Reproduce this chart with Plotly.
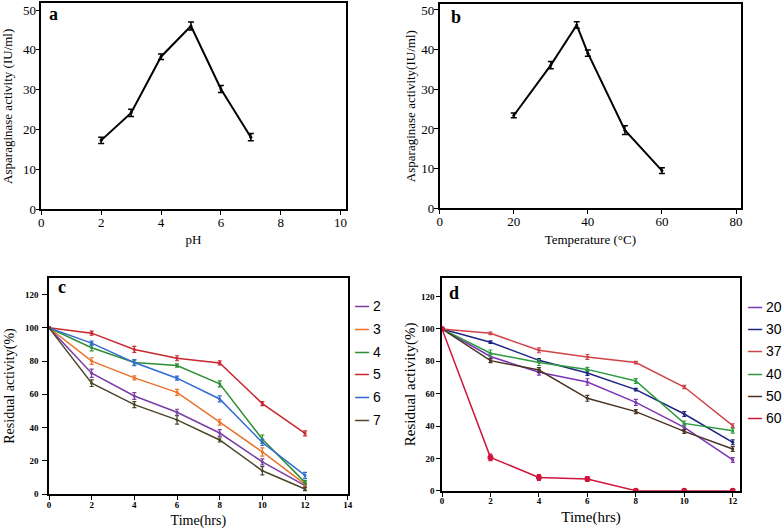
import plotly.graph_objects as go

# ---------------- data ----------------
ph_values = [2, 3, 4, 5, 6, 7]
ph_activity = [17.3, 24.2, 38.3, 46.0, 30.2, 18.1]
ph_err = [0.8, 0.9, 0.7, 1.0, 0.9, 0.9]

temp_values = [20, 30, 37, 40, 50, 60]
temp_activity = [23.4, 36.1, 46.2, 39.1, 19.7, 9.5]
temp_err = [0.6, 0.9, 0.8, 0.8, 1.1, 0.7]

time_hrs = [0, 2, 4, 6, 8, 10, 12]

ph_names = ["2", "3", "4", "5", "6", "7"]
ph_stab = [
    [100, 72.7, 59.0, 49.2, 36.7, 19.3, 5.0],
    [100, 80.0, 69.9, 61.2, 43.2, 25.3, 6.0],
    [100, 88.0, 79.1, 77.3, 66.3, 33.0, 7.0],
    [100, 96.8, 87.0, 81.7, 78.9, 54.4, 36.5],
    [100, 90.8, 79.1, 69.7, 57.2, 31.0, 11.2],
    [100, 66.7, 53.8, 44.6, 32.5, 14.0, 3.0],
]
ph_stab_err = [
    [0.5, 2.5, 2.0, 1.8, 2.0, 1.8, 1.0],
    [0.5, 2.0, 1.2, 1.8, 1.8, 2.5, 1.0],
    [0.5, 1.8, 1.5, 1.0, 1.8, 2.5, 1.2],
    [0.5, 1.2, 1.8, 1.5, 1.2, 1.2, 1.5],
    [0.5, 1.2, 1.8, 1.2, 1.8, 1.8, 1.8],
    [0.5, 2.0, 1.8, 2.5, 1.2, 2.5, 1.0],
]
ph_colors = ["#7a3ea6", "#e8742c", "#2f8f34", "#c8282e", "#2f6bd0", "#4d472a"]

temp_names = ["20", "30", "37", "40", "50", "60"]
temp_stab = [
    [100, 83.0, 73.2, 67.2, 54.6, 39.2, 19.0],
    [100, 91.8, 80.6, 72.8, 62.5, 47.4, 29.9],
    [100, 97.3, 86.8, 82.7, 79.2, 64.1, 40.2],
    [100, 85.0, 79.2, 75.0, 67.8, 41.6, 37.1],
    [100, 80.4, 74.6, 57.1, 48.9, 36.7, 25.8],
    [100, 20.6, 8.2, 7.2, 0.0, 0.0, 0.0],
]
temp_stab_err = [
    [0.5, 1.5, 1.8, 2.0, 1.8, 1.5, 1.5],
    [0.5, 0.8, 1.0, 1.5, 0.8, 1.5, 1.5],
    [0.5, 0.8, 1.5, 1.5, 0.8, 1.0, 1.2],
    [0.5, 2.0, 1.8, 1.2, 1.5, 1.5, 1.5],
    [0.5, 1.2, 1.5, 1.8, 1.2, 1.2, 1.5],
    [0.5, 2.0, 1.8, 1.5, 0.5, 0.5, 0.5],
]
temp_colors = ["#7e34b8", "#1e2580", "#d04448", "#2e9a40", "#4a3424", "#d0143c"]

# ---------------- figure ----------------
W, H = 784, 529
SERIF = "Liberation Serif, Times New Roman, serif"
SANS = "Liberation Sans, Arial, sans-serif"

fig = go.Figure()

# panel a
fig.add_trace(go.Scatter(
    x=ph_values, y=ph_activity, mode="lines+markers",
    line=dict(color="black", width=2), marker=dict(color="black", size=3),
    error_y=dict(type="data", array=ph_err, color="black", thickness=1.5, width=3),
    xaxis="x", yaxis="y", showlegend=False))

# panel b
fig.add_trace(go.Scatter(
    x=temp_values, y=temp_activity, mode="lines+markers",
    line=dict(color="black", width=2), marker=dict(color="black", size=3),
    error_y=dict(type="data", array=temp_err, color="black", thickness=1.5, width=3),
    xaxis="x2", yaxis="y2", showlegend=False))

# panel c
for name, vals, err, col in zip(ph_names, ph_stab, ph_stab_err, ph_colors):
    fig.add_trace(go.Scatter(
        x=time_hrs, y=vals, name=name, mode="lines+markers",
        line=dict(color=col, width=1.5), marker=dict(color=col, size=3),
        error_y=dict(type="data", array=err, color=col, thickness=1.2, width=2),
        xaxis="x3", yaxis="y3", showlegend=False))

# panel d
for name, vals, err, col in zip(temp_names, temp_stab, temp_stab_err, temp_colors):
    big = name == "60"
    fig.add_trace(go.Scatter(
        x=time_hrs, y=vals, name=name, mode="lines+markers",
        line=dict(color=col, width=1.5), marker=dict(color=col, size=6 if big else 3),
        error_y=dict(type="data", array=err, color=col, thickness=1.2, width=2),
        xaxis="x4", yaxis="y4", showlegend=False))


def px_x(v):
    return v / W


def px_y(v):
    return 1 - v / H


axis_common = dict(showline=True, linecolor="black", linewidth=1.6, mirror=True,
                   ticks="outside", ticklen=4, tickwidth=1.4, tickcolor="black",
                   showgrid=False, zeroline=False, automargin=False)
small_tick = dict(size=9, family=SERIF, weight="bold")

fig.update_layout(
    width=W, height=H, margin=dict(l=0, r=0, t=0, b=0),
    paper_bgcolor="white", plot_bgcolor="white",
    font=dict(family=SERIF, color="black"),
    xaxis=dict(axis_common, domain=[px_x(41.3), px_x(345.7)], range=[0, 10.17],
               tickvals=[0, 2, 4, 6, 8, 10], tickfont=dict(size=13), ticklabelstandoff=-4,
               title=dict(text="pH", font=dict(size=13), standoff=6), anchor="y"),
    yaxis=dict(axis_common, domain=[px_y(209.3), px_y(3.3)], range=[0, 51.7],
               tickvals=[0, 10, 20, 30, 40, 50], tickfont=dict(size=13), ticklabelstandoff=-3,
               title=dict(text="Asparaginase activity (IU/ml)", font=dict(size=13), standoff=9),
               anchor="x"),
    xaxis2=dict(axis_common, domain=[px_x(439.7), px_x(741)], range=[0, 81.35],
                tickvals=[0, 20, 40, 60, 80], tickfont=dict(size=13), ticklabelstandoff=-4,
                title=dict(text="Temperature (°C)", font=dict(size=13), standoff=7), anchor="y2"),
    yaxis2=dict(axis_common, domain=[px_y(208.3), px_y(4)], range=[0, 51.5],
                tickvals=[0, 10, 20, 30, 40, 50], tickfont=dict(size=13), ticklabelstandoff=-3,
                title=dict(text="Asparaginase activity(IU/ml)", font=dict(size=13), standoff=3),
                anchor="x2"),
    xaxis3=dict(axis_common, domain=[px_x(49), px_x(347.7)], range=[0, 14],
                tickvals=[0, 2, 4, 6, 8, 10, 12, 14], tickfont=small_tick, ticklabelstandoff=-3,
                title=dict(text="Time(hrs)", font=dict(size=14), standoff=13), anchor="y3"),
    yaxis3=dict(axis_common, domain=[px_y(494), px_y(278)], range=[0, 130], ticklen=5,
                tickvals=[0, 20, 40, 60, 80, 100, 120], tickfont=small_tick, ticklabelstandoff=2,
                title=dict(text="Residual activity(%)", font=dict(size=14), standoff=7),
                anchor="x3"),
    xaxis4=dict(axis_common, domain=[px_x(442), px_x(740)], range=[0, 12.3],
                tickvals=[0, 2, 4, 6, 8, 10, 12], tickfont=small_tick, ticklabelstandoff=-3,
                title=dict(text="Time(hrs)", font=dict(size=15), standoff=6), anchor="y4"),
    yaxis4=dict(axis_common, domain=[px_y(490.7), px_y(278)], range=[0, 131.5],
                tickvals=[0, 20, 40, 60, 80, 100, 120], tickfont=small_tick,
                title=dict(text="Residual activity(%)", font=dict(size=15), standoff=2),
                anchor="x4"),
)

annotations = []
# panel letters
for letter, xp, yp in [("a", 47, 14), ("b", 449, 17), ("c", 56, 287), ("d", 447, 293)]:
    annotations.append(dict(text="<b>%s</b>" % letter, x=px_x(xp), y=px_y(yp), xref="paper", yref="paper",
                            xanchor="left", yanchor="middle", showarrow=False,
                            font=dict(family=SERIF, size=18, color="black")))

# custom legends (text annotations with coloured dash swatches)
for i, (name, col) in enumerate(zip(ph_names, ph_colors)):
    yc = 306 + i * 22.8
    annotations.append(dict(text='<span style="color:%s"><b>—</b></span> %s' % (col, name),
                            x=px_x(353), y=px_y(yc), xref="paper", yref="paper",
                            xanchor="left", yanchor="middle", showarrow=False,
                            font=dict(family=SANS, size=14, color="black")))
for i, (name, col) in enumerate(zip(temp_names, temp_colors)):
    yc = 307 + i * 22.2
    annotations.append(dict(text='<span style="color:%s"><b>—</b></span> %s' % (col, name),
                            x=px_x(784), y=px_y(yc), xref="paper", yref="paper",
                            xanchor="right", yanchor="middle", showarrow=False,
                            font=dict(family=SANS, size=14, color="black")))

fig.update_layout(annotations=annotations)

# remove the default 8px page margin so the figure sits at the window's top-left corner
fig.write_html("out.html", config={"displayModeBar": False},
               post_script="document.body.style.margin='0px';")
